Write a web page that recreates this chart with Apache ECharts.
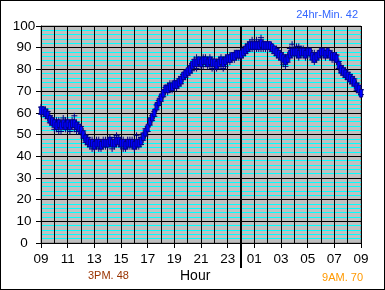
<!DOCTYPE html>
<html><head><meta charset="utf-8">
<script src="https://cdn.jsdelivr.net/npm/echarts@6/dist/echarts.min.js"></script>
<style>
html,body{margin:0;padding:0;background:#fff;}
#wrap{position:relative;width:385px;height:290px;}
#chart{position:absolute;left:0;top:0;width:385px;height:290px;}
#frame{position:absolute;left:0;top:0;width:385px;height:290px;box-sizing:border-box;border:1px solid #000;pointer-events:none;}
</style></head>
<body>
<div id="wrap"><div id="chart"></div><div id="frame"></div></div>
<script>
// Hourly tick labels (every 2 hours, starting 09:00)
const xLabels = ['09','11','13','15','17','19','21','23','01','03','05','07','09'];
const stepHours = 1/6; // one reading every 10 minutes
const midnightHour = 15; // hours after 09:00
// average readings, every 10 minutes from 09:00 to 09:00 next day
const avgVals = [
 61,61,60,59,57,56, 55,54,55,54,55,54, 55,54,55,55,54,53, 52,50,48,47,46,46,
 45,46,46,45,46,46, 46,47,46,46,47,47, 46,46,45,46,46,46, 45,46,46,47,49,51,
 53,56,58,60,63,65, 67,69,71,71,72,72, 73,73,74,75,77,78, 79,80,82,83,83,84,
 83,84,84,83,84,83, 83,82,83,84,83,84, 85,85,86,86,87,87, 87,88,89,90,91,91,
 91,91,91,92,91,91, 91,91,90,89,88,87, 86,85,84,85,87,88, 88,88,87,88,88,87,
 88,88,86,85,86,87, 88,88,87,88,87,86, 86,85,82,80,79,78, 77,76,75,74,72,71,
 69];
const hiVals = [
 64,63,63,62,60,59, 58,58,58,57,59,58, 58,57,58,60,57,56, 55,53,51,50,49,49,
 48,49,49,48,49,49, 49,50,49,50,51,50, 49,49,48,49,49,49, 48,51,49,50,52,54,
 55,58,60,62,65,67, 69,71,73,74,75,74, 76,75,77,78,79,80, 81,83,84,86,87,86,
 86,87,87,86,87,86, 86,85,86,87,86,87, 87,88,88,89,89,89, 90,90,92,93,94,95,
 93,95,94,96,94,93, 93,93,92,91,91,90, 89,88,87,88,91,93, 91,92,92,91,91,90,
 91,90,89,89,88,89, 90,90,89,90,89,89, 88,88,85,83,82,81, 80,79,78,77,75,74,
 72];
const loVals = [
 58,58,57,56,54,53, 51,51,50,50,52,51, 51,50,52,51,50,50, 49,47,45,44,43,42,
 42,43,42,42,43,43, 43,44,42,43,44,44, 43,42,42,43,43,43, 42,43,43,44,46,48,
 50,53,55,57,60,62, 64,66,68,68,69,69, 70,70,71,72,74,75, 76,77,78,80,79,81,
 80,80,81,80,80,79, 79,79,80,80,79,80, 82,82,83,83,84,84, 84,85,86,87,88,88,
 88,88,88,88,88,88, 88,88,87,86,85,84, 83,81,80,82,84,85, 85,85,84,85,85,84,
 85,85,83,82,83,84, 85,85,84,85,84,83, 83,82,79,77,76,75, 74,73,72,71,69,68,
 67];

const data = avgVals.map((v, i) => [i * stepHours, v, hiVals[i], loVals[i]]);
const FONT = '"Liberation Sans", Arial, sans-serif';

const chart = echarts.init(document.getElementById('chart'), null, {renderer: 'canvas'});
chart.setOption({
  animation: false,
  backgroundColor: '#fff',
  grid: {left: 41, right: 24, top: 26, bottom: 47, show: true, backgroundColor: '#c0c0c0', borderColor: '#808080', borderWidth: 1},
  xAxis: {
    type: 'value', min: 0, max: 24, interval: 2,
    axisLine: {lineStyle: {color: '#000', width: 1}},
    axisTick: {show: true, length: 5, lineStyle: {color: '#000'}},
    axisLabel: {formatter: v => xLabels[Math.round(v / 2)], color: '#000', fontSize: 13.5, fontFamily: FONT, margin: 9},
    splitLine: {show: true, lineStyle: {color: '#000', width: 1}},
    minorTick: {show: false, splitNumber: 2},
    minorSplitLine: {show: true, lineStyle: {color: '#000', width: 1}}
  },
  yAxis: {
    type: 'value', min: 0, max: 100, interval: 10,
    axisLine: {show: true, lineStyle: {color: '#000', width: 1}},
    axisTick: {show: true, length: 5, lineStyle: {color: '#000'}},
    axisLabel: {color: '#000', fontSize: 13.5, fontFamily: FONT, align: 'center', margin: 17},
    splitLine: {show: true, lineStyle: {color: '#000', width: 1}},
    minorTick: {show: false, splitNumber: 5},
    minorSplitLine: {show: true, lineStyle: {color: '#00ffff', width: 1}}
  },
  graphic: [
    {type: 'text', right: 27, top: 9, style: {text: '24hr-Min. 42', fill: '#3366ff', font: '11px ' + FONT}},
    {type: 'text', left: 88, top: 270, style: {text: '3PM. 48', fill: '#993300', font: '11px ' + FONT}},
    {type: 'text', right: 22, top: 272, style: {text: '9AM. 70', fill: '#ff9900', font: '11px ' + FONT}},
    {type: 'text', left: 180, top: 269, style: {text: 'Hour', fill: '#000', font: '14px ' + FONT}}
  ],
  series: [
    {
      type: 'custom', data: [[midnightHour]], clip: false, silent: true, z: 2,
      renderItem: (params, api) => {
        const t = api.coord([api.value(0), 100]);
        const b = api.coord([api.value(0), 0]);
        return {type: 'line', shape: {x1: t[0], y1: t[1], x2: b[0], y2: b[1] + 25}, style: {stroke: '#000', lineWidth: 2}};
      }
    },
    {
      type: 'custom', data: data, silent: true, z: 3,
      renderItem: (params, api) => {
        const x = api.value(0);
        const ph = api.coord([x, api.value(2)]);
        const pl = api.coord([x, api.value(3)]);
        const s = {stroke: '#000080', lineWidth: 1};
        return {type: 'group', children: [
          {type: 'line', shape: {x1: ph[0], y1: ph[1], x2: pl[0], y2: pl[1]}, style: s},
          {type: 'line', shape: {x1: ph[0] - 3, y1: ph[1] + 3, x2: ph[0] + 3, y2: ph[1] + 3}, style: s},
          {type: 'line', shape: {x1: pl[0] - 3, y1: pl[1] - 3, x2: pl[0] + 3, y2: pl[1] - 3}, style: s}
        ]};
      }
    },
    {
      type: 'custom', data: data, silent: true, z: 4,
      renderItem: (params, api) => {
        const x = api.value(0);
        const pa = api.coord([x, api.value(1)]);
        const w = api.size([stepHours, 0])[0];
        const h = api.size([0, 3.5])[1];
        return {type: 'rect', shape: {x: pa[0] - w / 2 - 0.5, y: pa[1] - h / 2, width: w + 1, height: h},
          style: {fill: '#0000ff', stroke: '#000080', lineWidth: 0.8}};
      }
    }
  ]
});
</script>
</body></html>
